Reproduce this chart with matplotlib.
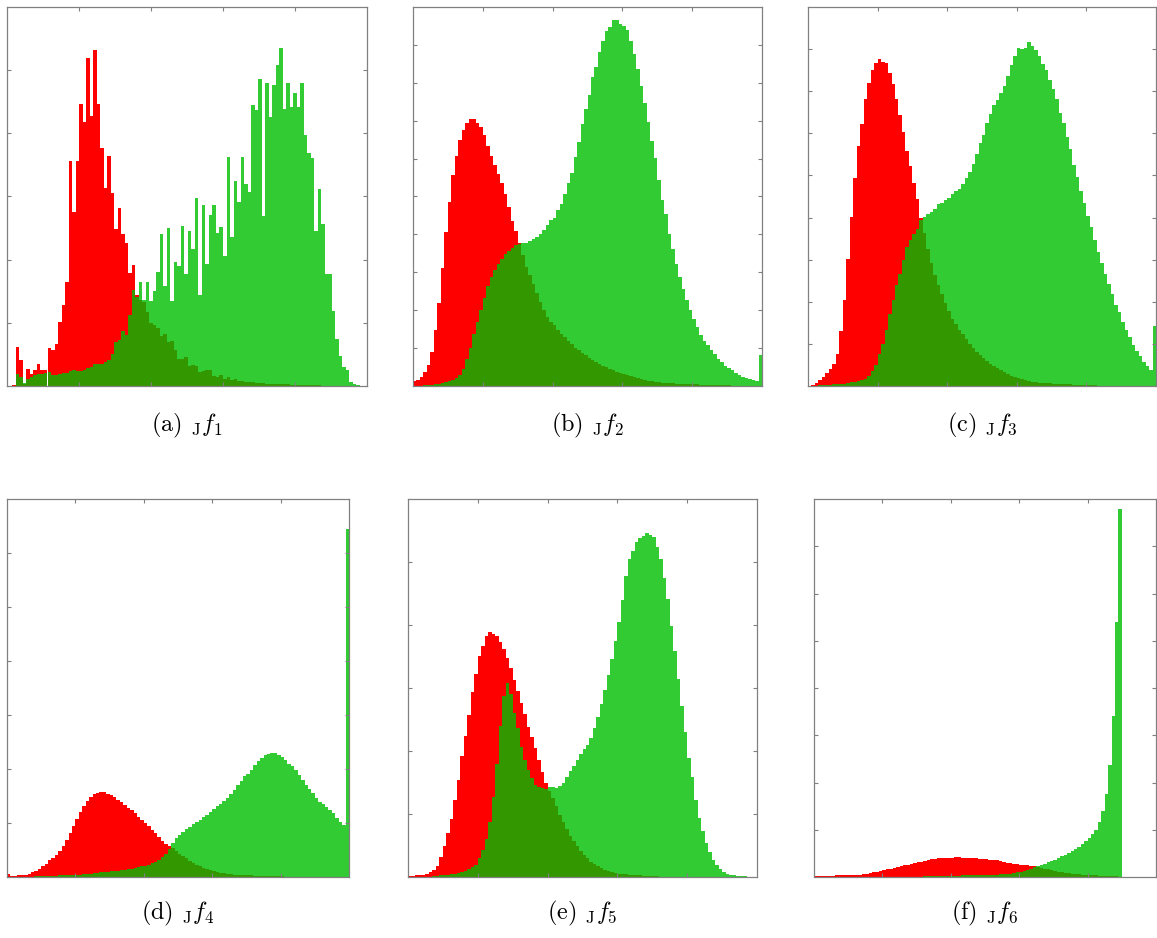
import numpy as np
import matplotlib.pyplot as plt

plt.rcParams["font.family"] = "serif"
plt.rcParams["font.serif"] = ["cmr10"]
plt.rcParams["mathtext.fontset"] = "cm"

# bar heights in percent of the axis height, 100 bins per panel (90 in f)
red_a = [0.2, 10.3, 6.8, 0.5, 4.6, 3.1, 4.1, 5.7, 4.1, 4.3,
         10.1, 9.6, 11.2, 16.8, 21.3, 27.4, 59.4, 45.9, 59.4, 74.3,
         69.7, 86.5, 71.3, 88.7, 74.4, 62.9, 52.2, 60.7, 51.0, 41.5,
         46.9, 40.1, 37.6, 29.9, 31.9, 24.0, 22.6, 22.2, 19.6, 16.7,
         16.0, 15.2, 13.1, 13.8, 11.6, 11.9, 9.4, 7.2, 7.0, 7.7,
         5.2, 5.5, 5.2, 3.7, 4.0, 4.1, 4.3, 2.6, 2.4, 2.8,
         1.9, 2.4, 1.7, 1.8, 1.2, 1.4, 1.1, 1.0, 1.0, 0.9,
         0.9, 0.8, 0.6, 0.6, 0.5, 0.5, 0.4, 0.4, 0.4, 0.3,
         0.3, 0.3, 0.3, 0.2, 0.2, 0.2, 0.2, 0.2, 0.1, 0.1,
         0.1, 0.1, 0.1, 0.1, 0.1, 0.1, 0, 0, 0, 0]
green_a = [0, 3.1, 2.4, 0.9, 1.9, 2.4, 2.8, 3.1, 3.1, 3.4,
           3.7, 2.8, 2.8, 3.1, 3.3, 3.4, 4.0, 4.3, 4.0, 4.0,
           4.3, 4.8, 5.0, 5.9, 5.7, 5.9, 6.3, 6.8, 8.4, 11.6,
           12.1, 14.5, 13.4, 18.7, 25.3, 23.5, 27.4, 22.7, 27.4, 22.3,
           25.0, 30.0, 40.2, 26.3, 41.7, 22.3, 32.7, 31.7, 42.2, 29.6,
           40.8, 36.2, 49.5, 24.1, 47.7, 32.1, 45.0, 47.7, 40.5, 41.9,
           34.4, 60.5, 39.4, 54.1, 48.6, 60.4, 53.4, 51.1, 74.1, 72.7,
           81.0, 44.8, 80.0, 71.1, 79.5, 84.8, 89.3, 73.1, 79.9, 73.6,
           77.4, 73.6, 80.0, 66.3, 61.6, 60.1, 41.0, 52.1, 42.7, 29.5,
           29.5, 19.8, 12.5, 7.8, 5.0, 4.3, 1.0, 0.6, 0.3, 0.1]

red_b = [1.2, 1.5, 2.4, 3.7, 5.5, 9.1, 14.7, 22.0, 31.1, 40.6,
         48.5, 55.7, 60.8, 65.0, 67.6, 69.5, 70.5, 70.4, 69.5, 68.3,
         66.3, 63.2, 60.8, 58.3, 55.9, 53.5, 50.6, 47.1, 43.5, 40.8,
         37.6, 34.5, 31.4, 29.2, 26.8, 24.5, 22.2, 20.1, 18.2, 17.0,
         16.0, 14.9, 13.8, 12.8, 11.9, 11.0, 10.1, 9.4, 8.7, 8.1,
         7.5, 6.9, 6.3, 5.9, 5.4, 4.9, 4.5, 4.1, 3.8, 3.4,
         3.1, 2.8, 2.6, 2.3, 2.0, 1.8, 1.5, 1.3, 1.2, 1.1,
         1.0, 0.9, 0.8, 0.8, 0.7, 0.6, 0.6, 0.5, 0.5, 0.4,
         0.4, 0.4, 0.3, 0.3, 0.3, 0.3, 0.2, 0.2, 0.2, 0.2,
         0.2, 0.1, 0.1, 0.1, 0.1, 0.1, 0.1, 0.1, 0.1, 0.1]
green_b = [0, 0, 0.1, 0.2, 0.3, 0.35, 0.4, 0.6, 0.8, 1.0,
           1.2, 1.7, 2.1, 2.8, 4.6, 7.2, 10.1, 13.6, 16.9, 20.1,
           23.2, 26.4, 28.8, 30.5, 32.1, 33.6, 34.7, 35.6, 36.5, 37.1,
           37.4, 37.6, 37.8, 38.2, 38.7, 39.3, 40.2, 41.1, 42.6, 43.7,
           44.4, 46.4, 48.1, 50.6, 53.6, 56.3, 60.4, 64.3, 69.0, 73.2,
           76.9, 81.4, 84.2, 88.1, 91.0, 93.6, 94.7, 96.5, 96.7, 95.4,
           95.0, 93.8, 91.0, 87.5, 83.6, 79.2, 74.8, 69.6, 64.6, 60.2,
           54.3, 49.0, 45.5, 40.0, 36.1, 32.1, 28.8, 25.6, 22.8, 20.1,
           17.8, 15.6, 13.5, 12.0, 10.9, 9.4, 8.4, 7.2, 6.3, 5.4,
           4.7, 4.1, 3.4, 2.8, 2.3, 2.0, 1.8, 1.5, 1.3, 8.1]

red_c = [0, 0.2, 0.8, 1.5, 2.4, 3.4, 4.6, 5.9, 8.5, 14.4,
         22.6, 33.4, 44.5, 54.8, 63.2, 69.2, 75.7, 79.9, 83.3, 85.2,
         86.3, 85.6, 85.2, 82.6, 79.7, 75.7, 71.5, 66.9, 62.0, 58.1,
         53.5, 49.3, 44.4, 40.3, 36.1, 32.4, 29.2, 26.6, 24.2, 22.0,
         19.7, 17.8, 16.3, 14.9, 13.6, 12.3, 11.2, 10.1, 9.1, 8.2,
         7.3, 6.6, 5.9, 5.3, 4.7, 4.1, 3.6, 3.2, 2.7, 2.4,
         2.0, 1.8, 1.5, 1.3, 1.1, 1.0, 0.9, 0.8, 0.7, 0.7,
         0.6, 0.5, 0.5, 0.4, 0.4, 0.4, 0.3, 0.3, 0.3, 0.2,
         0.2, 0.2, 0.2, 0.1, 0.1, 0.1, 0.1, 0.1, 0.1, 0.1,
         0.1, 0, 0, 0, 0, 0, 0, 0, 0, 0]
green_c = [0, 0, 0.1, 0.2, 0.2, 0.3, 0.3, 0.4, 0.4, 0.5,
           0.6, 0.8, 1.0, 1.1, 1.2, 1.5, 1.9, 2.6, 4.0, 5.6,
           8.4, 11.2, 14.9, 19.1, 22.6, 26.7, 29.6, 33.3, 36.6, 38.6,
           40.2, 41.5, 43.7, 44.6, 45.3, 45.9, 46.8, 47.9, 48.3, 49.0,
           49.7, 50.6, 51.5, 52.1, 53.4, 54.8, 56.5, 58.5, 61.2, 64.0,
           66.2, 69.5, 71.7, 74.2, 75.5, 77.4, 79.2, 81.8, 84.7, 87.1,
           89.1, 89.0, 89.1, 90.7, 89.6, 88.7, 87.0, 85.0, 83.3, 80.8,
           78.3, 75.7, 72.0, 69.3, 65.7, 62.6, 58.2, 55.1, 51.5, 48.3,
           44.8, 41.9, 38.5, 35.4, 32.4, 29.6, 27.0, 24.2, 21.5, 19.4,
           17.0, 14.9, 12.8, 10.9, 9.3, 7.9, 6.4, 5.2, 4.2, 15.7]

red_d = [0.9, 0.2, 0.3, 0.4, 0.4, 0.6, 0.9, 1.2, 1.7, 2.2,
         2.8, 3.5, 4.4, 5.0, 5.9, 6.8, 8.1, 9.9, 11.6, 13.4,
         15.3, 17.1, 18.7, 20.0, 21.2, 22.0, 22.2, 22.5, 22.4, 22.0,
         21.6, 21.2, 20.5, 19.8, 19.1, 18.3, 17.6, 16.9, 16.0, 15.2,
         14.3, 13.4, 12.5, 11.6, 10.6, 9.6, 8.8, 8.3, 7.7, 6.8,
         6.2, 5.5, 4.9, 4.3, 3.7, 3.3, 2.8, 2.5, 2.1, 1.9,
         1.6, 1.3, 1.1, 1.0, 0.8, 0.7, 0.6, 0.5, 0.5, 0.4,
         0.4, 0.4, 0.3, 0.3, 0.3, 0.3, 0.2, 0.2, 0.2, 0.2,
         0.2, 0.1, 0.1, 0.1, 0.1, 0.1, 0.1, 0.1, 0.1, 0.1,
         0.1, 0, 0, 0, 0, 0, 0, 0, 0, 0]
green_d = [0, 0, 0, 0.1, 0.1, 0.1, 0.1, 0.1, 0.2, 0.2,
           0.2, 0.2, 0.3, 0.3, 0.3, 0.4, 0.4, 0.4, 0.5, 0.5,
           0.6, 0.6, 0.7, 0.8, 0.9, 1.0, 1.1, 1.2, 1.3, 1.4,
           1.5, 1.6, 1.7, 1.8, 1.9, 2.0, 2.2, 2.4, 2.6, 2.8,
           3.0, 3.3, 3.6, 4.0, 4.5, 5.2, 6.2, 7.5, 9.0, 10.3,
           11.1, 12.0, 12.8, 13.3, 13.9, 14.6, 15.2, 15.8, 16.5, 17.3,
           18.0, 18.7, 19.4, 20.0, 20.8, 22.0, 22.9, 24.3, 25.5, 26.6,
           27.3, 28.4, 29.6, 30.6, 31.4, 32.2, 32.5, 32.9, 32.8, 32.3,
           31.7, 30.9, 30.0, 29.3, 28.3, 27.1, 25.7, 24.4, 23.3, 22.2,
           20.9, 19.9, 19.2, 18.5, 17.6, 16.9, 15.6, 14.5, 13.8, 92.1]

red_e = [0.2, 0.3, 0.4, 0.4, 0.6, 0.9, 1.2, 1.8, 3.0, 5.3,
         8.3, 11.6, 15.3, 20.3, 25.7, 31.9, 37.2, 42.9, 48.9, 53.8,
         58.4, 61.0, 63.8, 64.7, 64.4, 63.7, 62.3, 60.3, 57.9, 55.2,
         52.2, 49.3, 46.0, 43.2, 39.7, 37.0, 34.1, 30.9, 27.7, 24.9,
         22.7, 20.9, 18.7, 16.5, 14.5, 12.7, 10.9, 9.4, 8.1, 6.9,
         5.7, 4.9, 4.1, 3.4, 2.9, 2.4, 1.9, 1.6, 1.3, 1.1,
         0.9, 0.8, 0.7, 0.6, 0.5, 0.4, 0.4, 0.3, 0.3, 0.2,
         0.2, 0.2, 0.1, 0.1, 0.1, 0.1, 0, 0, 0, 0,
         0, 0, 0, 0, 0, 0, 0, 0, 0, 0,
         0, 0, 0, 0, 0, 0, 0, 0, 0, 0]
green_e = [0, 0, 0, 0, 0.1, 0.1, 0.1, 0.2, 0.3, 0.4,
           0.5, 0.6, 0.7, 0.9, 1.1, 1.4, 1.7, 2.1, 2.6, 3.3,
           5.0, 7.2, 10.1, 14.6, 21.2, 30.0, 40.0, 48.0, 51.4, 48.5,
           43.5, 39.5, 34.5, 31.0, 28.2, 26.2, 24.4, 23.8, 23.5, 23.4,
           23.8, 23.8, 23.6, 24.0, 25.0, 26.5, 28.0, 29.3, 30.9, 32.6,
           33.9, 35.0, 36.9, 39.5, 42.3, 45.7, 49.4, 53.4, 57.8, 62.5,
           67.4, 73.3, 79.7, 84.0, 86.2, 88.5, 89.6, 90.3, 91.0, 90.6,
           89.9, 87.3, 84.0, 79.2, 73.5, 66.5, 59.8, 52.4, 45.3, 38.4,
           31.4, 26.5, 20.5, 15.7, 12.3, 9.0, 6.7, 4.6, 3.1, 2.0,
           1.3, 0.9, 0.5, 0.4, 0.3, 0.2, 0.2, 0.1, 0.1, 0.1]

red_f = [0.3, 0.3, 0.3, 0.3, 0.3, 0.3, 0.4, 0.4, 0.4, 0.4,
         0.5, 0.5, 0.6, 0.6, 0.7, 0.8, 1.0, 1.2, 1.4, 1.6,
         1.8, 2.0, 2.2, 2.4, 2.6, 2.9, 3.1, 3.3, 3.5, 3.7,
         3.9, 4.1, 4.3, 4.5, 4.7, 4.8, 4.9, 5.0, 5.0, 5.1,
         5.1, 5.2, 5.2, 5.1, 5.1, 5.0, 5.0, 4.9, 4.8, 4.8,
         4.7, 4.6, 4.5, 4.4, 4.2, 4.0, 3.8, 3.7, 3.5, 3.4,
         3.3, 3.2, 3.1, 3.0, 2.8, 2.6, 2.4, 2.2, 2.0, 1.8,
         1.6, 1.4, 1.3, 1.1, 1.0, 0.9, 0.8, 0.7, 0.6, 0.5,
         0.5, 0.4, 0.4, 0.3, 0.3, 0.3, 0.2, 0.2, 0.2, 0.1]
green_f = [0, 0, 0, 0, 0, 0, 0, 0, 0, 0,
           0, 0, 0, 0, 0, 0, 0, 0, 0, 0,
           0.1, 0.1, 0.1, 0.1, 0.1, 0.1, 0.1, 0.1, 0.1, 0.1,
           0.1, 0.1, 0.2, 0.2, 0.2, 0.2, 0.2, 0.3, 0.3, 0.3,
           0.3, 0.3, 0.3, 0.4, 0.4, 0.4, 0.4, 0.5, 0.5, 0.5,
           0.5, 0.6, 0.6, 0.6, 0.7, 0.7, 0.8, 0.9, 1.1, 1.2,
           1.4, 1.7, 1.9, 2.2, 2.6, 2.9, 3.2, 3.5, 3.9, 4.2,
           4.6, 5.0, 5.5, 5.9, 6.3, 6.8, 7.4, 7.9, 8.6, 9.4,
           10.3, 11.5, 12.5, 14.6, 17.4, 22.0, 29.5, 42.7, 67.4, 97.4]

captions = [r"(a) ${}_{\mathrm{J}}f_1$", r"(b) ${}_{\mathrm{J}}f_2$", r"(c) ${}_{\mathrm{J}}f_3$",
            r"(d) ${}_{\mathrm{J}}f_4$", r"(e) ${}_{\mathrm{J}}f_5$", r"(f) ${}_{\mathrm{J}}f_6$"]
reds = [red_a, red_b, red_c, red_d, red_e, red_f]
greens = [green_a, green_b, green_c, green_d, green_e, green_f]
# histogram range along the x axis (axis runs 0..1)
bin_range = [(0.015, 0.99), (0, 1), (0, 1), (0, 1), (0, 1), (0, 0.9)]
y_intervals = [6, 10, 9, 7, 6, 8]

W, H = 1157, 938
# axes boxes in pixels: left, top, right, bottom
boxes = [(7, 7, 367, 386), (413, 7, 762, 386), (808, 7, 1156, 386),
         (7, 499, 349, 877), (408, 499, 757, 877), (814, 499, 1156, 877)]
caption_y = [425, 913]

fig = plt.figure(figsize=(W / 100, H / 100), dpi=100)

for k in range(6):
    l, t, r, b = boxes[k]
    ax = fig.add_axes([l / W, 1 - b / H, (r - l) / W, (b - t) / H])
    lo, hi = bin_range[k]
    edges = np.linspace(lo, hi, len(reds[k]) + 1)
    w = edges[1] - edges[0]
    ax.bar(edges[:-1], reds[k], width=w, align="edge", color="#ff0000", linewidth=0)
    ax.bar(edges[:-1], greens[k], width=w, align="edge", color="#00bf00", alpha=0.8, linewidth=0)
    ax.set_xlim(0, 1)
    ax.set_ylim(0, 100)
    ax.set_xticks([0.2, 0.4, 0.6, 0.8])
    ax.set_yticks(np.linspace(0, 100, y_intervals[k] + 1)[1:-1])
    ax.tick_params(direction="in", top=True, right=True, length=3, width=0.8,
                   color="#808080", labelbottom=False, labelleft=False)
    for s in ax.spines.values():
        s.set_color("#808080")
        s.set_linewidth(0.9)
    fig.text((l + r) / 2 / W, 1 - caption_y[k // 3] / H, captions[k],
             ha="center", va="center", fontsize=17.5)

fig.savefig("out.png", dpi=100)
